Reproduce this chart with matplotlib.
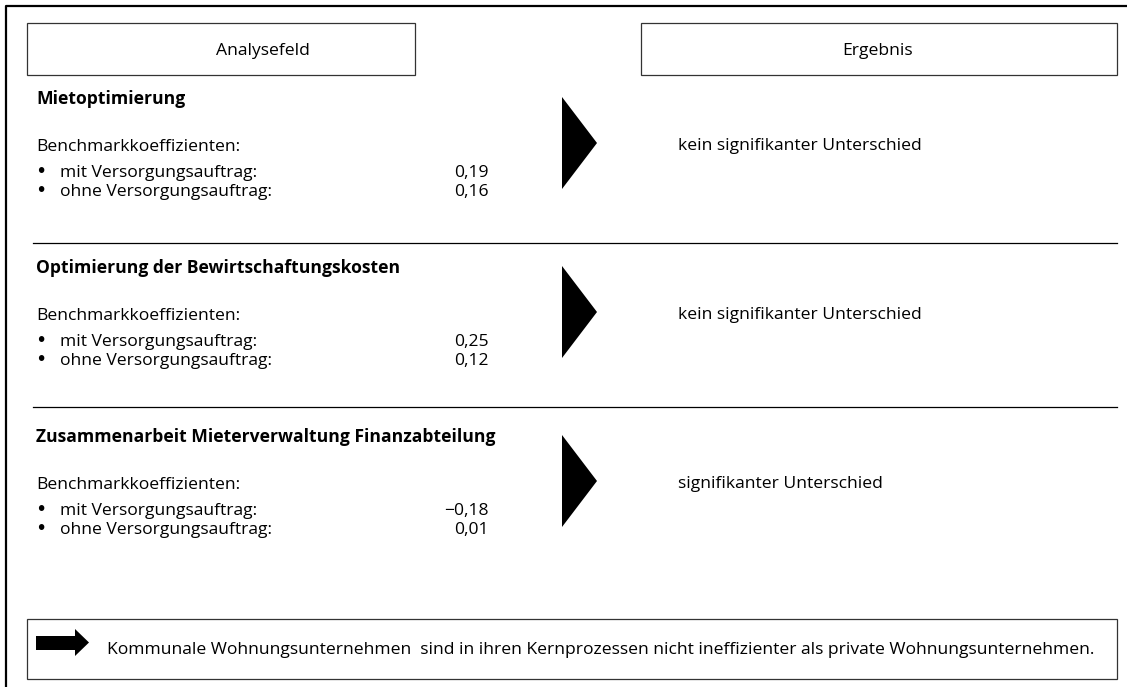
import matplotlib
matplotlib.use('Agg')
import matplotlib.pyplot as plt
from matplotlib.patches import Rectangle, Polygon

plt.rcParams['font.family'] = ['Open Sans', 'DejaVu Sans']

headers = ['Analysefeld', 'Ergebnis']
fields = ['Mietoptimierung',
          'Optimierung der Bewirtschaftungskosten',
          'Zusammenarbeit Mieterverwaltung Finanzabteilung']
groups = ['mit Versorgungsauftrag:', 'ohne Versorgungsauftrag:']
coef_mit = ['0,19', '0,25', '\u22120,18']
coef_ohne = ['0,16', '0,12', '0,01']
results = ['kein signifikanter Unterschied',
           'kein signifikanter Unterschied',
           'signifikanter Unterschied']
conclusion = ('Kommunale Wohnungsunternehmen  sind in ihren Kernprozessen '
              'nicht ineffizienter als private Wohnungsunternehmen.')

W, H = 1127, 687
fig = plt.figure(figsize=(W / 100, H / 100), dpi=100)
ax = fig.add_axes([0, 0, 1, 1])
ax.set_xlim(0, W)
ax.set_ylim(H, 0)
ax.axis('off')

fs = 12.6

# outer frame (only top and left visible)
ax.plot([6, 6, W + 5], [H + 5, 6, 6], color='black', lw=1.6)

# header boxes
ax.add_patch(Rectangle((27, 23), 388, 52, fill=False, ec='#333333', lw=0.9))
ax.add_patch(Rectangle((641, 23), 476, 52, fill=False, ec='#333333', lw=0.9))
ax.text(263, 55, headers[0], ha='center', va='baseline', fontsize=fs)
ax.text(878, 55, headers[1], ha='center', va='baseline', fontsize=fs)

offsets = [0, 169, 338]
for i, off in enumerate(offsets):
    ax.text(36, 104 + off, fields[i], fontsize=fs, fontweight='bold', va='baseline')
    ax.text(36, 151 + off, 'Benchmarkkoeffizienten:', fontsize=fs, va='baseline')
    for j, (g, v) in enumerate(zip(groups, [coef_mit[i], coef_ohne[i]])):
        y = 177 + 19 * j + off
        ax.text(35, y, '\u2022', fontsize=fs + 1, va='baseline', family='DejaVu Sans')
        ax.text(60, y, g, fontsize=fs, va='baseline')
        ax.text(489, y, v, fontsize=fs, va='baseline', ha='right')
    ax.add_patch(Polygon([[562, 97 + off], [597, 143 + off], [562, 189 + off]],
                         closed=True, fc='black', ec='none'))
    ax.text(678, 150 + off, results[i], fontsize=fs, va='baseline')

for y in [243, 407]:
    ax.plot([33, 1117], [y, y], color='black', lw=0.9)

# conclusion box
ax.add_patch(Rectangle((27, 619), 1090, 60, fill=False, ec='#333333', lw=0.9))
ax.add_patch(Polygon([[36, 636], [75, 636], [75, 629], [89, 642.5], [75, 656],
                      [75, 650], [36, 650]], closed=True, fc='black', ec='none'))
ax.text(107, 654, conclusion, fontsize=fs, va='baseline')

fig.savefig('out.png', dpi=100)
